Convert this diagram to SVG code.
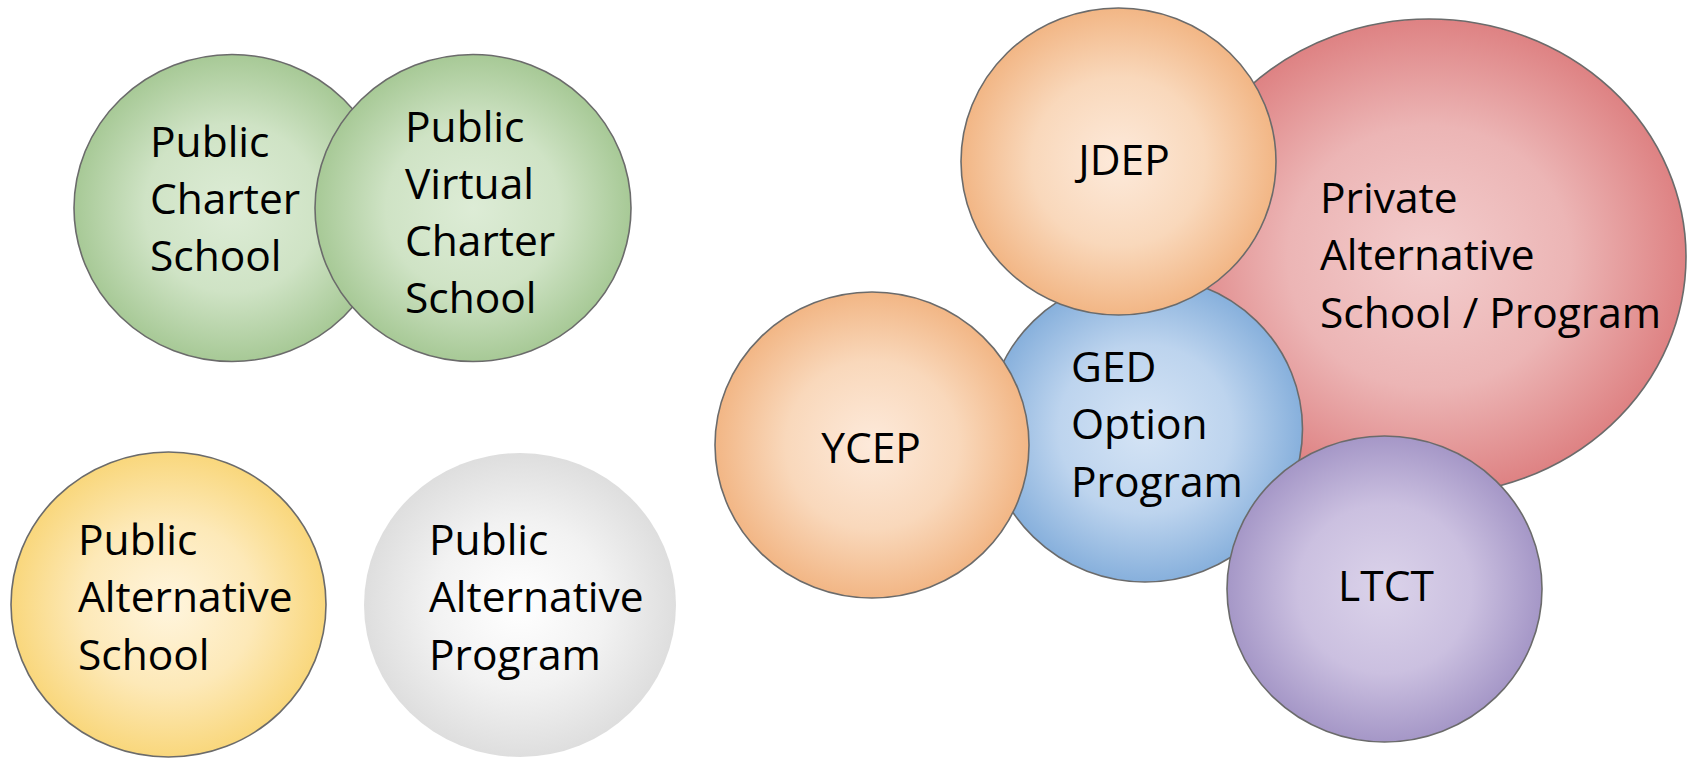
<svg xmlns="http://www.w3.org/2000/svg" width="1690" height="758" viewBox="0 0 1690 758">
<style>
  .node { stroke: #6b6b6b; stroke-width: 1.6; }
  .lbl { font-family: "Open Sans", "Noto Sans", "Liberation Sans", sans-serif; font-size: 42.5px; fill: #000; }
  .mid { text-anchor: middle; }
</style>
<defs>
  <radialGradient id="gGreen" cx="50%" cy="50%" r="50%"><stop offset="0" stop-color="#ddecd6"/><stop offset="0.55" stop-color="#cfe3c5"/><stop offset="1" stop-color="#a7c996"/></radialGradient>
  <radialGradient id="gOrange" cx="50%" cy="50%" r="50%"><stop offset="0" stop-color="#fdeadb"/><stop offset="0.55" stop-color="#f9d8bb"/><stop offset="1" stop-color="#f2b685"/></radialGradient>
  <radialGradient id="gRed" cx="50%" cy="50%" r="50%"><stop offset="0" stop-color="#f3cdcd"/><stop offset="0.55" stop-color="#ecb5b5"/><stop offset="1" stop-color="#de8283"/></radialGradient>
  <radialGradient id="gBlue" cx="50%" cy="50%" r="50%"><stop offset="0" stop-color="#d5e4f5"/><stop offset="0.55" stop-color="#bdd4ee"/><stop offset="1" stop-color="#87b0dc"/></radialGradient>
  <radialGradient id="gPurple" cx="50%" cy="50%" r="50%"><stop offset="0" stop-color="#dbd3ea"/><stop offset="0.55" stop-color="#cbc0e0"/><stop offset="1" stop-color="#a597c7"/></radialGradient>
  <radialGradient id="gYellow" cx="50%" cy="50%" r="50%"><stop offset="0" stop-color="#fff5de"/><stop offset="0.55" stop-color="#fde9b8"/><stop offset="1" stop-color="#f9d77c"/></radialGradient>
  <radialGradient id="gGrey" cx="50%" cy="50%" r="50%"><stop offset="0" stop-color="#ffffff"/><stop offset="0.55" stop-color="#f2f2f2"/><stop offset="1" stop-color="#dedede"/></radialGradient>
</defs>
<rect width="1690" height="758" fill="#ffffff"/>
<g id="connectors"/>
<g id="public-charter-school">
  <ellipse class="node" cx="232" cy="208" rx="158" ry="153.5" fill="url(#gGreen)"/>
  <text class="lbl"><tspan x="150" y="157">Public</tspan><tspan x="150" y="214">Charter</tspan><tspan x="150" y="271">School</tspan></text>
</g>
<g id="public-virtual-charter-school">
  <ellipse class="node" cx="473" cy="208" rx="158" ry="153.5" fill="url(#gGreen)"/>
  <text class="lbl"><tspan x="405" y="142">Public</tspan><tspan x="405" y="199">Virtual</tspan><tspan x="405" y="256">Charter</tspan><tspan x="405" y="313">School</tspan></text>
</g>
<g id="public-alternative-school">
  <ellipse class="node" cx="168.5" cy="604.5" rx="157.5" ry="152.5" fill="url(#gYellow)"/>
  <text class="lbl"><tspan x="78" y="555">Public</tspan><tspan x="78" y="612">Alternative</tspan><tspan x="78" y="670">School</tspan></text>
</g>
<g id="public-alternative-program">
  <ellipse cx="520" cy="605" rx="156" ry="152" fill="url(#gGrey)"/>
  <text class="lbl"><tspan x="429" y="555">Public</tspan><tspan x="429" y="612">Alternative</tspan><tspan x="429" y="670">Program</tspan></text>
</g>
<g id="private-alternative">
  <ellipse class="node" cx="1429" cy="257" rx="257" ry="238" fill="url(#gRed)"/>
  <text class="lbl"><tspan x="1320" y="213">Private</tspan><tspan x="1320" y="270">Alternative</tspan><tspan x="1320" y="328">School / Program</tspan></text>
</g>
<g id="ged-option-program">
  <ellipse class="node" cx="1145" cy="429" rx="157.5" ry="153" fill="url(#gBlue)"/>
  <text class="lbl"><tspan x="1071" y="382">GED</tspan><tspan x="1071" y="439">Option</tspan><tspan x="1071" y="497">Program</tspan></text>
</g>
<g id="ltct">
  <ellipse class="node" cx="1384.5" cy="589" rx="157.5" ry="153" fill="url(#gPurple)"/>
  <text class="lbl mid" x="1386" y="601">LTCT</text>
</g>
<g id="ycep">
  <ellipse class="node" cx="872" cy="445" rx="157" ry="153" fill="url(#gOrange)"/>
  <text class="lbl mid" x="871" y="463">YCEP</text>
</g>
<g id="jdep">
  <ellipse class="node" cx="1118.5" cy="161.5" rx="157.5" ry="153.5" fill="url(#gOrange)"/>
  <text class="lbl mid" x="1124" y="175">JDEP</text>
</g>
</svg>
